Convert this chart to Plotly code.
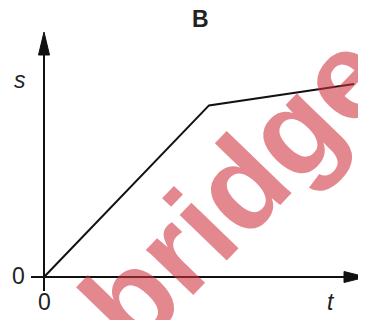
import plotly.graph_objects as go

# Data (arbitrary units)
t_vals = [0, 5.0, 9.4]
s_vals = [0, 5.2, 5.85]
title_text = "B"
x_label = "t"
y_label = "s"
zero_label = "0"
watermark = "bridge"

OFF = 8  # page body margin
PX = 33.0  # pixels per unit
W, H = 366 - OFF, 320 - OFF
X0, Y0 = 44 - OFF, 277 - OFF  # pixel position of origin within figure
xr = [-X0 / PX, (W - X0) / PX]
yr = [(Y0 - H) / PX, Y0 / PX]

def px_x(p):
    return (p - OFF - X0) / PX

def px_y(p):
    return (Y0 - (p - OFF)) / PX

fig = go.Figure()
fig.add_trace(go.Scatter(x=t_vals, y=s_vals, mode="lines",
                         line=dict(color="#111111", width=2), hoverinfo="skip"))

shapes = []
shapes.append(dict(type="line", xref="x", yref="y", x0=0, x1=0,
                   y0=px_y(291), y1=px_y(50), line=dict(color="#111111", width=2)))
shapes.append(dict(type="line", xref="x", yref="y", x0=px_x(31), x1=px_x(348),
                   y0=0, y1=0, line=dict(color="#111111", width=2)))
ya_tip = px_y(32); ya_base = px_y(55); hw = 5.5 / PX
shapes.append(dict(type="path", xref="x", yref="y",
                   path=f"M {-hw} {ya_base} L 0 {ya_tip} L {hw} {ya_base} Z",
                   fillcolor="#111111", line=dict(color="#111111", width=1)))
xa_tip = px_x(366); xa_base = px_x(344)
shapes.append(dict(type="path", xref="x", yref="y",
                   path=f"M {xa_base} {-hw} L {xa_tip} 0 L {xa_base} {hw} Z",
                   fillcolor="#111111", line=dict(color="#111111", width=1)))

font = "Liberation Sans, Arial, sans-serif"
ann = []
ann.append(dict(x=px_x(200), y=px_y(19), text=f"<b>{title_text}</b>", showarrow=False,
                font=dict(family=font, size=23, color="#222")))
ann.append(dict(x=px_x(20), y=px_y(80), text=f"<i>{y_label}</i>", showarrow=False,
                font=dict(family=font, size=23, color="#222")))
ann.append(dict(x=px_x(18), y=px_y(276), text=zero_label, showarrow=False,
                font=dict(family=font, size=23, color="#222")))
ann.append(dict(x=px_x(44), y=px_y(302), text=zero_label, showarrow=False,
                font=dict(family=font, size=23, color="#222")))
ann.append(dict(x=px_x(331), y=px_y(302), text=f"<i>{x_label}</i>", showarrow=False,
                font=dict(family=font, size=23, color="#222")))
ann.append(dict(x=px_x(235), y=px_y(190), text=f"<b>{watermark}</b>", showarrow=False,
                textangle=-46, font=dict(family=font, size=124, color="rgba(208,50,62,0.58)")))

fig.update_layout(width=W, height=H, margin=dict(l=0, r=0, t=0, b=0),
                  paper_bgcolor="white", plot_bgcolor="white", showlegend=False,
                  xaxis=dict(range=xr, visible=False, fixedrange=True),
                  yaxis=dict(range=yr, visible=False, fixedrange=True),
                  shapes=shapes, annotations=ann)
fig.write_html("out.html")
